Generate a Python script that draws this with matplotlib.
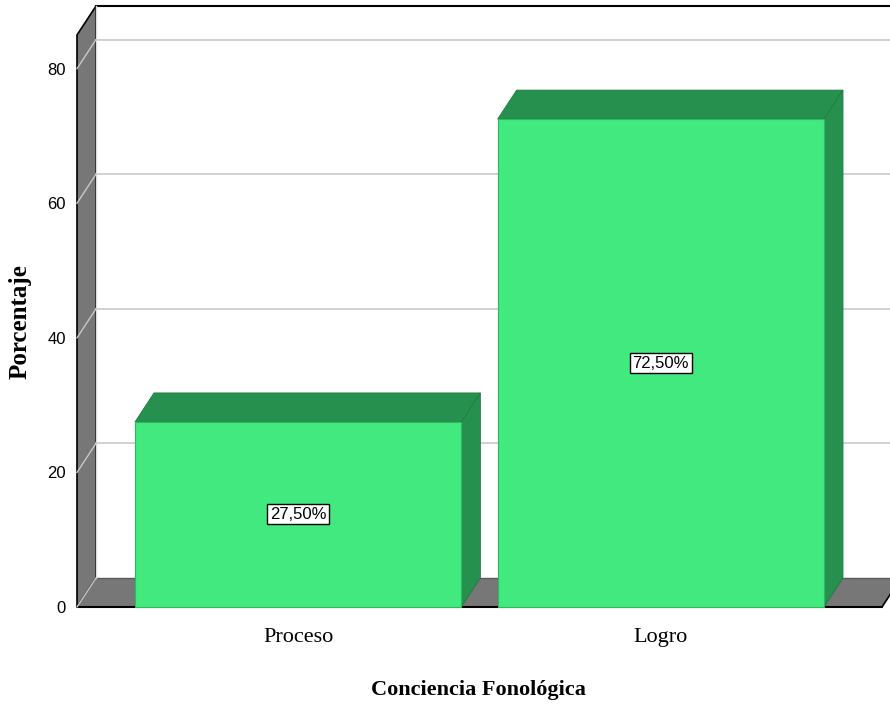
import numpy as np
import matplotlib
matplotlib.use("Agg")
import matplotlib.pyplot as plt
from matplotlib.patches import Polygon, Rectangle

# data
categorias = ["Proceso", "Logro"]
porcentajes = [27.5, 72.5]
etiquetas = ["27,50%", "72,50%"]
yticks = [0, 20, 40, 60, 80]

# colours
front_green = "#42E97E"
dark_green = "#26914F"
wall_gray = "#777777"
grid_gray = "#C8C8C8"

W, H = 890, 704
fig = plt.figure(figsize=(W / 100, H / 100), dpi=100)

# axes = front plane of the 3d box (pixels -> figure fraction)
left, right, bottom, top = 77, 882, 607, 35
ax = fig.add_axes([left / W, 1 - bottom / H, (right - left) / W, (bottom - top) / H])
x0, x1 = -0.61, 1.61
ymax = 85
ax.set_xlim(x0, x1)
ax.set_ylim(0, ymax)

# depth offset of the back plane (in data units)
dx = 19 / (right - left) * (x1 - x0)
dy = 29 / (bottom - top) * ymax

# back wall
ax.add_patch(Rectangle((x0 + dx, dy), (x1 - x0) + 0.1, ymax, facecolor="white",
                       edgecolor="none", clip_on=False, zorder=0))
ax.plot([x0 + dx, x1 + dx + 0.1], [ymax + dy, ymax + dy], color="black", lw=1.5,
        clip_on=False, zorder=1)

# left wall
ax.add_patch(Polygon([(x0, 0), (x0, ymax), (x0 + dx, ymax + dy), (x0 + dx, dy)],
                     closed=True, facecolor=wall_gray, edgecolor="black", lw=1.2,
                     clip_on=False, zorder=1))
# floor
ax.add_patch(Polygon([(x0, 0), (x1, 0), (x1 + dx, dy), (x0 + dx, dy)],
                     closed=True, facecolor=wall_gray, edgecolor="none",
                     clip_on=False, zorder=1))
ax.plot([x0, x1], [0, 0], color="black", lw=1.5, clip_on=False, zorder=2)
ax.plot([x1, x1 + dx], [0, dy], color="black", lw=1.2, clip_on=False, zorder=2)
ax.plot([x0 + dx, x1 + dx + 0.1], [dy, dy], color="#5a5a5a", lw=1, clip_on=False, zorder=2)
ax.plot([x0 + dx, x0 + dx], [dy, ymax + dy], color="#dddddd", lw=1, clip_on=False, zorder=2)

# grid lines on back wall and left wall
for t in yticks:
    if t > 0:
        ax.plot([x0 + dx, x1 + dx + 0.1], [t + dy, t + dy], color=grid_gray, lw=1.2,
                clip_on=False, zorder=1.5)
    ax.plot([x0, x0 + dx], [t, t + dy], color=grid_gray, lw=1, clip_on=False, zorder=2)

# bars
pos = np.arange(len(categorias))
bw = 0.9
for c, v, lab in zip(pos, porcentajes, etiquetas):
    l, r = c - bw / 2, c + bw / 2
    ax.add_patch(Polygon([(l, v), (r, v), (r + dx, v + dy), (l + dx, v + dy)],
                         closed=True, facecolor=dark_green, edgecolor="#1f7a42",
                         lw=0.6, clip_on=False, zorder=3))
    ax.add_patch(Polygon([(r, 0), (r + dx, dy), (r + dx, v + dy), (r, v)],
                         closed=True, facecolor=dark_green, edgecolor="#1f7a42",
                         lw=0.6, clip_on=False, zorder=3))
    ax.add_patch(Rectangle((l, 0), bw, v, facecolor=front_green, edgecolor="#2fb862",
                           lw=0.8, clip_on=False, zorder=4))
    ax.text(c, v / 2, lab, ha="center", va="center", fontsize=12,
            family="Liberation Sans", zorder=5,
            bbox=dict(boxstyle="square,pad=0.15", facecolor="white",
                      edgecolor="black", lw=1))

# ticks
ax.set_yticks(yticks)
ax.set_yticklabels([str(t) for t in yticks], fontsize=12, family="Liberation Sans")
ax.set_xticks(pos)
ax.set_xticklabels(categorias, fontsize=16, family="Liberation Serif")
ax.tick_params(axis="y", length=0, pad=8)
ax.tick_params(axis="x", length=0, pad=15)
for s in ax.spines.values():
    s.set_visible(False)
ax.patch.set_visible(False)

fig.text(20 / W, 1 - 322 / H, "Porcentaje", rotation=90, ha="center", va="center",
         fontsize=18, fontweight="bold", family="Liberation Serif")
fig.text(478 / W, 1 - 690 / H, "Conciencia Fonológica", ha="center", va="center",
         fontsize=16, fontweight="bold", family="Liberation Serif")

fig.savefig("out.png", dpi=100)
